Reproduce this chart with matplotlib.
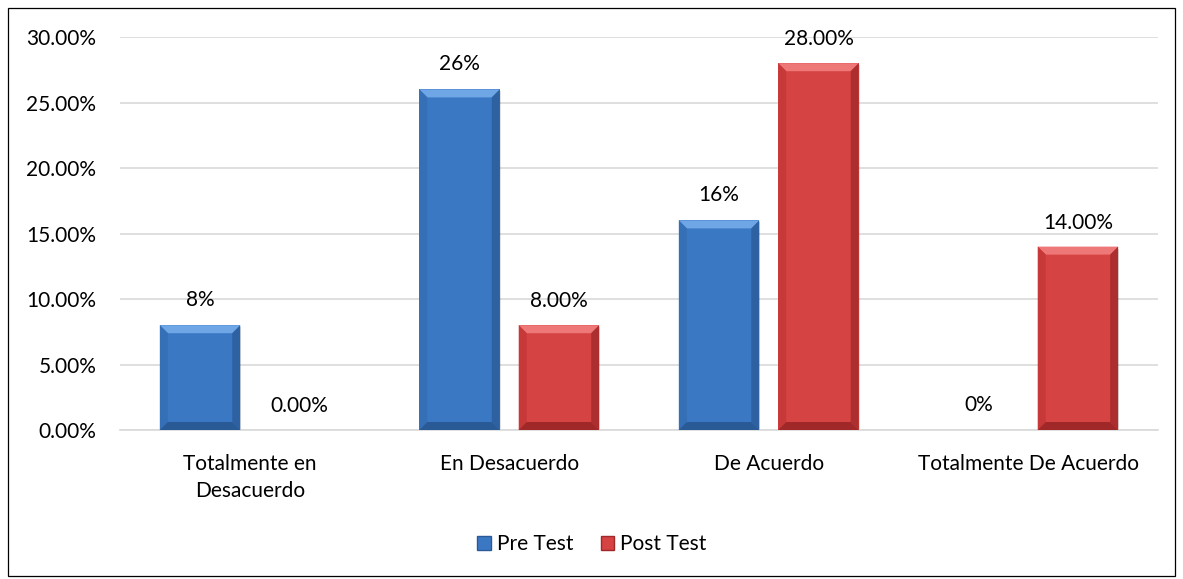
import matplotlib
matplotlib.use("Agg")

import numpy as np
import matplotlib.pyplot as plt
from matplotlib.patches import Polygon, Rectangle
from matplotlib.ticker import FuncFormatter

plt.rcParams["font.family"] = ["Lato", "DejaVu Sans"]

categories = ["Totalmente en\nDesacuerdo", "En Desacuerdo", "De Acuerdo",
              "Totalmente De Acuerdo"]
pre_test = [0.08, 0.26, 0.16, 0.0]
post_test = [0.0, 0.08, 0.28, 0.14]
pre_labels = ["8%", "26%", "16%", "0%"]
post_labels = ["0.00%", "8.00%", "28.00%", "14.00%"]

W, H = 1183, 579
FS = 15
fig = plt.figure(figsize=(W / 100, H / 100), dpi=100)
fig.patches.append(Rectangle((8 / W, 3 / H), (W - 16) / W, (H - 11) / H,
                             transform=fig.transFigure, fill=False,
                             ec="#000000", lw=0.9))
ax = fig.add_axes([120 / W, 1 - 430 / H, (1158 - 120) / W, (430 - 37) / H])

x = np.arange(len(categories))
bw = 0.31
gap = 0.073
off = (bw + gap) / 2

styles = {
    "pre": dict(face="#3B78C4", light="#6FA6E6", dark="#2A5A96", side="#356FB5"),
    "post": dict(face="#D64343", light="#EE7777", dark="#A02828", side="#C73838"),
}

ax.set_xlim(-0.5, len(categories) - 0.5)
ax.set_ylim(0, 0.30)


def bevel_bars(xs, vals, st):
    bars = ax.bar(xs, vals, bw, color=st["face"], zorder=3, lw=0)
    # bevel size in data units from pixel size
    sx = 8 / (ax.bbox.width / 4.0)
    sy = 8 / (ax.bbox.height / 0.30)
    for b in bars:
        h = b.get_height()
        if h <= 0:
            continue
        x0 = b.get_x()
        x1 = x0 + b.get_width()
        e = min(sy, h / 3)
        top = Polygon([(x0, h), (x1, h), (x1 - sx, h - e), (x0 + sx, h - e)],
                      closed=True, fc=st["light"], lw=0, zorder=4)
        left = Polygon([(x0, 0), (x0, h), (x0 + sx, h - e), (x0 + sx, e)],
                       closed=True, fc=st["side"], lw=0, zorder=4)
        right = Polygon([(x1, 0), (x1, h), (x1 - sx, h - e), (x1 - sx, e)],
                        closed=True, fc=st["dark"], lw=0, zorder=4, alpha=0.75)
        bot = Polygon([(x0, 0), (x1, 0), (x1 - sx, e), (x0 + sx, e)],
                      closed=True, fc=st["dark"], lw=0, zorder=4)
        for p in (top, left, right, bot):
            ax.add_patch(p)
        # soft shadow
        ax.add_patch(Rectangle((x0 + 0.004, -0.0015), b.get_width(), h,
                               fc="#000000", alpha=0.12, lw=0, zorder=2))
    return bars


b1 = bevel_bars(x - off, pre_test, styles["pre"])
b2 = bevel_bars(x + off, post_test, styles["post"])

for xi, v, lab in zip(x - off, pre_test, pre_labels):
    ax.annotate(lab, (xi, v), xytext=(0, 11), textcoords="offset points",
                ha="center", va="bottom", fontsize=FS, color="#000000")
for xi, v, lab in zip(x + off, post_test, post_labels):
    ax.annotate(lab, (xi, v), xytext=(0, 10), textcoords="offset points",
                ha="center", va="bottom", fontsize=FS, color="#000000")

ax.set_yticks(np.arange(0, 0.301, 0.05))
ax.yaxis.set_major_formatter(FuncFormatter(lambda v, p: "%.2f%%" % (v * 100)))
ax.set_xticks(x)
ax.set_xticklabels(categories, fontsize=FS, linespacing=1.45)
ax.tick_params(axis="y", length=0, pad=17, labelsize=FS)
ax.tick_params(axis="x", length=0, pad=17)
ax.grid(axis="y", color="#D9D9D9", lw=1.2, zorder=0)
for s in ["top", "right", "left"]:
    ax.spines[s].set_visible(False)
ax.spines["bottom"].set_color("#D9D9D9")
ax.spines["bottom"].set_linewidth(1.2)

leg_handles = [Rectangle((0, 0), 1, 1, fc=styles["pre"]["face"], ec=styles["pre"]["dark"]),
               Rectangle((0, 0), 1, 1, fc=styles["post"]["face"], ec=styles["post"]["dark"])]
fig.legend(leg_handles, ["Pre Test", "Post Test"], loc="center",
           bbox_to_anchor=(592 / W, 1 - 544 / H), ncol=2, frameon=False,
           fontsize=FS, handlelength=0.65, handleheight=0.65, handletextpad=0.3,
           columnspacing=1.3)

fig.savefig("out.png", dpi=100)
